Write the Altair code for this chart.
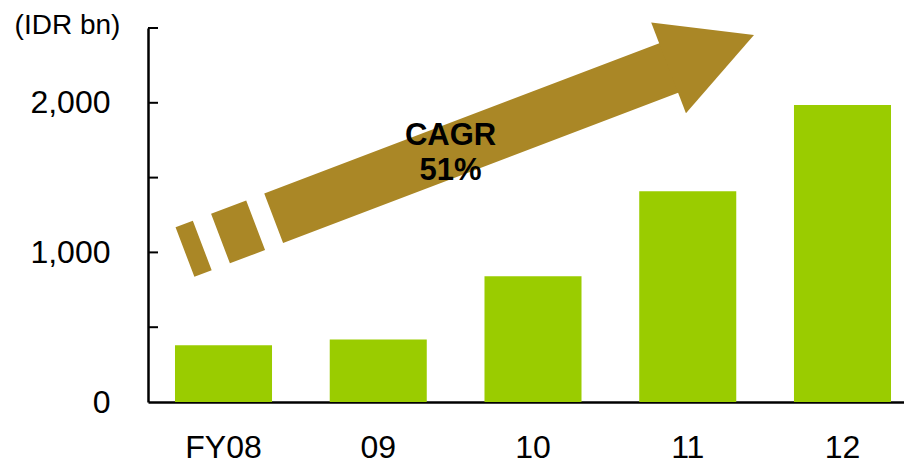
import altair as alt
import pandas as pd

# ---- data ----
years = ["FY08", "09", "10", "11", "12"]
values = [379, 417, 840, 1409, 1985]
tick_values = [500, 1000, 1500, 2000, 2500]
label_values = [0, 1000, 2000]

# annotation arrow (x in category-index units, y in IDR bn)
arrow_x = [-0.249, 2.894]
arrow_y = [1002, 2239]
head_x = [3.152]
head_y = [2343]
cagr_text = ["CAGR", "51%"]
cagr_x = [1.467, 1.467]
cagr_y = [1720, 1482]

BAR = "#9ACC00"
ARROW = "#AA8726"
FONT = "Liberation Sans"

bars_df = pd.DataFrame({"year": years, "value": values})
ticks_df = pd.DataFrame({"value": tick_values})
arrow_df = pd.DataFrame({"ax": arrow_x, "value": arrow_y})
head_df = pd.DataFrame({"ax": head_x, "value": head_y})
text_df = pd.DataFrame({"ax": cagr_x, "value": cagr_y, "label": cagr_text})

yscale = alt.Scale(domain=[0, 2500], nice=False, zero=True)
axscale = alt.Scale(domain=[-0.4879, 4.3974], nice=False, zero=False)

yaxis = alt.Axis(values=label_values, format=",d", labelFontSize=32, labelColor="black",
                 labelPadding=38, ticks=False, tickSize=0, grid=False,
                 domainColor="black", domainWidth=2.5, labelFont=FONT,
                 title="(IDR bn)", titleAngle=0, titleAlign="center",
                 titleBaseline="alphabetic", titleX=-81, titleY=5,
                 titleFontSize=28, titleFontWeight="normal", titleColor="black",
                 titleFont=FONT)

bars = alt.Chart(bars_df).mark_bar(color=BAR).encode(
    x=alt.X("year:N", sort=None,
            scale=alt.Scale(paddingInner=0.373, paddingOuter=0.1292, align=0.675),
            axis=alt.Axis(title=None, labelAngle=0, labelFontSize=32, labelColor="black",
                          labelBaseline="alphabetic", labelPadding=55, ticks=False, tickSize=0,
                          domainColor="black", domainWidth=2.5, labelFont=FONT)),
    y=alt.Y("value:Q", scale=yscale, axis=yaxis),
)

ticks = alt.Chart(ticks_df).mark_rule(color="black", strokeWidth=2).encode(
    x=alt.value(0), x2=alt.value(10),
    y=alt.Y("value:Q", scale=yscale, axis=yaxis),
)

arrow_body = alt.Chart(arrow_df).mark_line(
    color=ARROW, strokeWidth=53, strokeCap="butt",
    strokeDash=[18.5, 19.5, 37.6, 19.3, 440],
).encode(
    x=alt.X("ax:Q", scale=axscale, axis=None),
    y=alt.Y("value:Q", scale=yscale, axis=yaxis),
)

arrow_head = alt.Chart(head_df).mark_point(
    shape="M -0.943 -1 L 0.943 0 L -0.943 1 Z", filled=True, fill=ARROW,
    strokeWidth=0, opacity=1, size=9409, angle=339,
).encode(
    x=alt.X("ax:Q", scale=axscale, axis=None),
    y=alt.Y("value:Q", scale=yscale, axis=yaxis),
)

cagr = alt.Chart(text_df).mark_text(
    font=FONT, fontSize=31, fontWeight="bold", color="black",
    align="center", baseline="alphabetic",
).encode(
    x=alt.X("ax:Q", scale=axscale, axis=None),
    y=alt.Y("value:Q", scale=yscale, axis=yaxis),
    text="label:N",
)

chart = alt.layer(bars, ticks, arrow_body, arrow_head, cagr).resolve_scale(
    x="independent"
).properties(
    width=756, height=374,
    autosize=alt.AutoSizeParams(type="none"),
    padding={"left": 140, "top": 20, "right": 0, "bottom": 62},
).configure_view(stroke=None)

chart.save("out.html", embed_options={"renderer": "svg", "actions": False})
